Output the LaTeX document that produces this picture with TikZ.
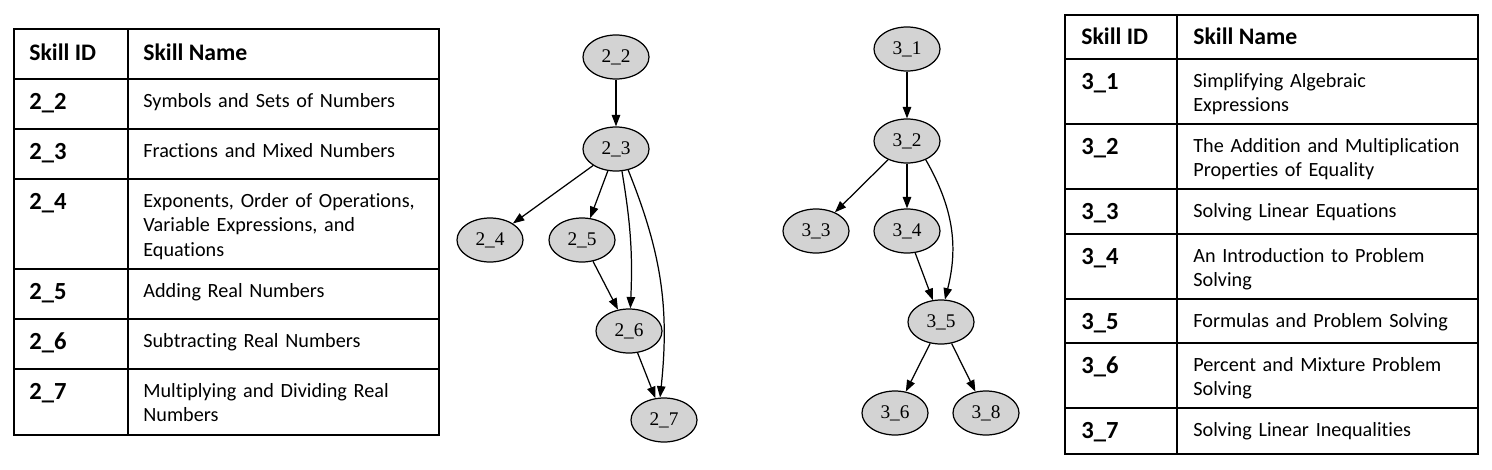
\documentclass[tikz,border=0pt]{standalone}
\usepackage{fontspec}
\setmainfont{Liberation Serif}
\newfontfamily\tablefont[Ligatures=CommonOff]{Carlito}
\usetikzlibrary{shapes.geometric,arrows.meta}
\definecolor{nodegray}{HTML}{D3D3D3}

\begin{document}
\begin{tikzpicture}[x=0.02cm, y=-0.02cm,
    skill/.style={ellipse, draw=black, line width=0.7pt, fill=nodegray,
        minimum width=1.32cm, minimum height=0.88cm, inner sep=0pt,
        font=\fontsize{11}{13}\selectfont},
    link/.style={-{Triangle[length=6.5pt,width=4.8pt]}, line width=0.7pt},
    tableline/.style={line width=1.1pt},
    headcell/.style={anchor=base west, inner sep=0pt,
        font=\tablefont\bfseries\fontsize{13.5}{16}\selectfont},
    idcell/.style={anchor=base west, inner sep=0pt,
        font=\tablefont\bfseries\fontsize{14}{16}\selectfont},
    namecell/.style={anchor=base west, inner sep=0pt, text width=5.9cm, align=left,
        font=\tablefont\fontsize{11.5}{14.2}\selectfont}]

    \useasboundingbox (0,0) rectangle (1492,470);

    % Left table: grid
    \draw[tableline] (14,29) rectangle (439,435);
    \draw[tableline] (128,29) -- (128,435);
    \foreach \y in {79,129,179,269,319,369}
        \draw[tableline] (14,\y) -- (439,\y);

    % Left table: header and ids
    \node[headcell] (lhid) at (29,60) {Skill ID};
    \node[headcell] (lhname) at (143,60) {Skill Name};
    \foreach \a/\b/\y in {2/2/79, 2/3/129, 2/4/179, 2/5/269, 2/6/319, 2/7/369}
        \node[idcell] (lid\a\b) at (29,\y+30) {\a\_\b};

    % Left table: names
    \node[namecell] (lname22) at (143,107) {Symbols and Sets of Numbers};
    \node[namecell] (lname23) at (143,157) {Fractions and Mixed Numbers};
    \node[namecell] (lname24) at (143,207) {Exponents, Order of Operations,\\Variable Expressions, and\\Equations};
    \node[namecell] (lname25) at (143,297) {Adding Real Numbers};
    \node[namecell] (lname26) at (143,347) {Subtracting Real Numbers};
    \node[namecell] (lname27) at (143,397) {Multiplying and Dividing Real\\Numbers};

    % Graph of chapter 2
    \node[skill] (n22) at (616,57) {2\_2};
    \node[skill] (n23) at (616,149) {2\_3};
    \node[skill] (n24) at (490,240) {2\_4};
    \node[skill] (n25) at (582,240) {2\_5};
    \node[skill] (n26) at (629,331) {2\_6};
    \node[skill] (n27) at (664,420) {2\_7};

    \draw[link] (n22) -- (n23);
    \draw[link] (n23) -- (n24);
    \draw[link] (n23) -- (n25);
    \draw[link] (n23.-75) to[bend left=6] (n26);
    \draw[link] (n23.-60) to[bend left=14] (n27.100);
    \draw[link] (n25) -- (n26);
    \draw[link] (n26) -- (n27);

    % Graph of chapter 3
    \node[skill] (n31) at (907,49) {3\_1};
    \node[skill] (n32) at (907,141) {3\_2};
    \node[skill] (n33) at (816,231) {3\_3};
    \node[skill] (n34) at (907,231) {3\_4};
    \node[skill] (n35) at (941,322) {3\_5};
    \node[skill] (n36) at (895,413) {3\_6};
    \node[skill] (n38) at (986,413) {3\_8};

    \draw[link] (n31) -- (n32);
    \draw[link] (n32) -- (n33);
    \draw[link] (n32) -- (n34);
    \draw[link] (n32.-45) to[bend left=22] (n35.80);
    \draw[link] (n34) -- (n35);
    \draw[link] (n35) -- (n36);
    \draw[link] (n35) -- (n38);

    % Right table: grid
    \draw[tableline] (1065,15) rectangle (1478,454);
    \draw[tableline] (1177,15) -- (1177,454);
    \foreach \y in {59,124,189,234,299,343,408}
        \draw[tableline] (1065,\y) -- (1478,\y);

    % Right table: header and ids
    \node[headcell] (rhid) at (1081,44.5) {Skill ID};
    \node[headcell] (rhname) at (1193,44.5) {Skill Name};
    \foreach \a/\b/\y in {3/1/59, 3/2/124, 3/3/189, 3/4/234, 3/5/299, 3/6/343, 3/7/408}
        \node[idcell] (rid\a\b) at (1081,\y+30.5) {\a\_\b};

    % Right table: names
    \node[namecell] (rname31) at (1193,87) {Simplifying Algebraic\\Expressions};
    \node[namecell] (rname32) at (1193,152) {The Addition and Multiplication\\Properties of Equality};
    \node[namecell] (rname33) at (1193,217) {Solving Linear Equations};
    \node[namecell] (rname34) at (1193,262) {An Introduction to Problem\\Solving};
    \node[namecell] (rname35) at (1193,327) {Formulas and Problem Solving};
    \node[namecell] (rname36) at (1193,371) {Percent and Mixture Problem\\Solving};
    \node[namecell] (rname37) at (1193,436) {Solving Linear Inequalities};
\end{tikzpicture}
\end{document}
